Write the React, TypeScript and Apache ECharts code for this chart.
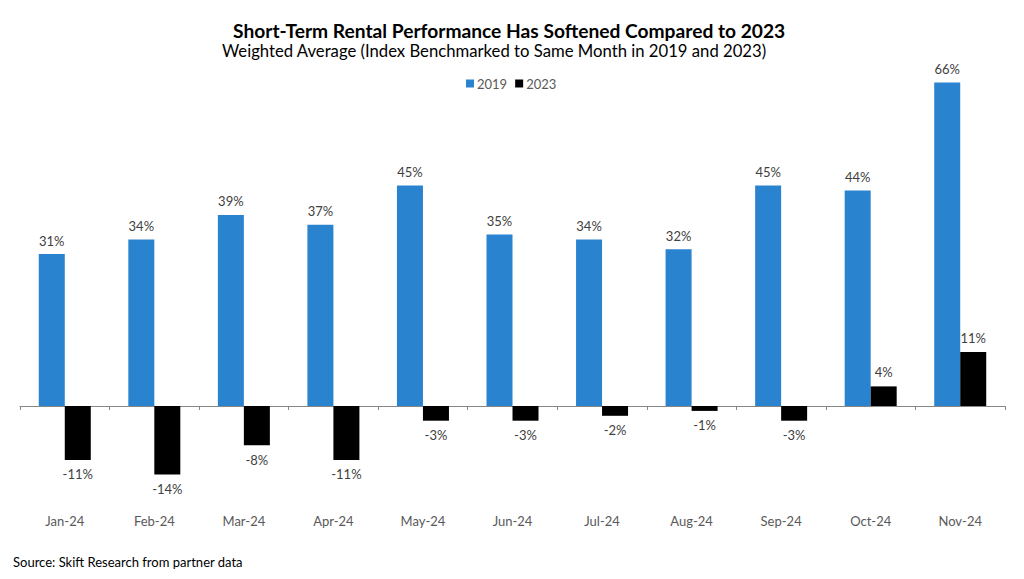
import React, { useEffect, useRef } from "react";
import * as echarts from "echarts";

const categories = ["Jan-24", "Feb-24", "Mar-24", "Apr-24", "May-24", "Jun-24", "Jul-24", "Aug-24", "Sep-24", "Oct-24", "Nov-24"];
const values2019 = [31, 34, 39, 37, 45, 35, 34, 32, 45, 44, 66];
const values2023 = [-11, -14, -8, -11, -3, -3, -2, -1, -3, 4, 11];

const FONT = "Lato, 'Noto Sans', sans-serif";

export default function App() {
  const ref = useRef<HTMLDivElement>(null);
  useEffect(() => {
    const chart = echarts.init(ref.current!, null, { renderer: "svg" });
    const labelFor = (v: number) => ({
      value: v,
      label: { position: v >= 0 ? "top" : "bottom" },
    });
    chart.setOption({
      animation: false,
      backgroundColor: "#ffffff",
      textStyle: { fontFamily: FONT },
      title: [
        {
          text: "Short-Term Rental Performance Has Softened Compared to 2023",
          left: 233,
          top: 21,
          padding: 0,
          textStyle: { fontFamily: FONT, fontSize: 19.2, fontWeight: "bold", color: "#000000" },
        },
        {
          text: "Weighted Average (Index Benchmarked to Same Month in 2019 and 2023)",
          left: 222,
          top: 42,
          padding: 0,
          textStyle: { fontFamily: FONT, fontSize: 16.7, fontWeight: "normal", color: "#000000" },
        },
      ],
      legend: {
        top: 72,
        left: 461,
        icon: "rect",
        itemWidth: 8,
        itemHeight: 8,
        itemGap: 8,
        textStyle: { fontFamily: FONT, fontSize: 13, color: "#595959", padding: [0, 0, 0, -2] },
        data: ["2019", "2023"],
      },
      grid: { left: 20, right: 19, top: 63, bottom: 75 },
      xAxis: [
        {
          type: "category",
          data: categories,
          position: "bottom",
          axisLine: { onZero: true, lineStyle: { color: "#868686", width: 1 } },
          axisTick: { show: true, length: 4, lineStyle: { color: "#868686" } },
          axisLabel: { show: false },
        },
        {
          type: "category",
          data: categories,
          position: "bottom",
          axisLine: { show: false, onZero: false },
          axisTick: { show: false },
          axisLabel: { show: true, margin: 10, fontFamily: FONT, fontSize: 13, color: "#595959" },
        },
      ],
      yAxis: {
        type: "value",
        min: -20,
        max: 70,
        show: false,
        splitLine: { show: false },
      },
      series: [
        {
          name: "2019",
          type: "bar",
          xAxisIndex: 0,
          barWidth: 26,
          barGap: "0%",
          itemStyle: { color: "#2A83CF" },
          label: { show: true, distance: 7, formatter: "{c}%", fontFamily: FONT, fontSize: 13, color: "#404040" },
          data: values2019.map(labelFor),
        },
        {
          name: "2023",
          type: "bar",
          xAxisIndex: 0,
          barWidth: 26,
          barGap: "0%",
          itemStyle: { color: "#000000" },
          label: { show: true, distance: 8, formatter: "{c}%", fontFamily: FONT, fontSize: 13, color: "#404040" },
          data: values2023.map(labelFor),
        },
      ],
      graphic: [
        {
          type: "text",
          left: 13,
          top: 555,
          style: { text: "Source: Skift Research from partner data", fontFamily: FONT, fontSize: 13, fill: "#000000" },
        },
      ],
    });
    return () => chart.dispose();
  }, []);
  return <div ref={ref} style={{ width: 1024, height: 579, position: "fixed", left: 0, top: 0 }} />;
}
